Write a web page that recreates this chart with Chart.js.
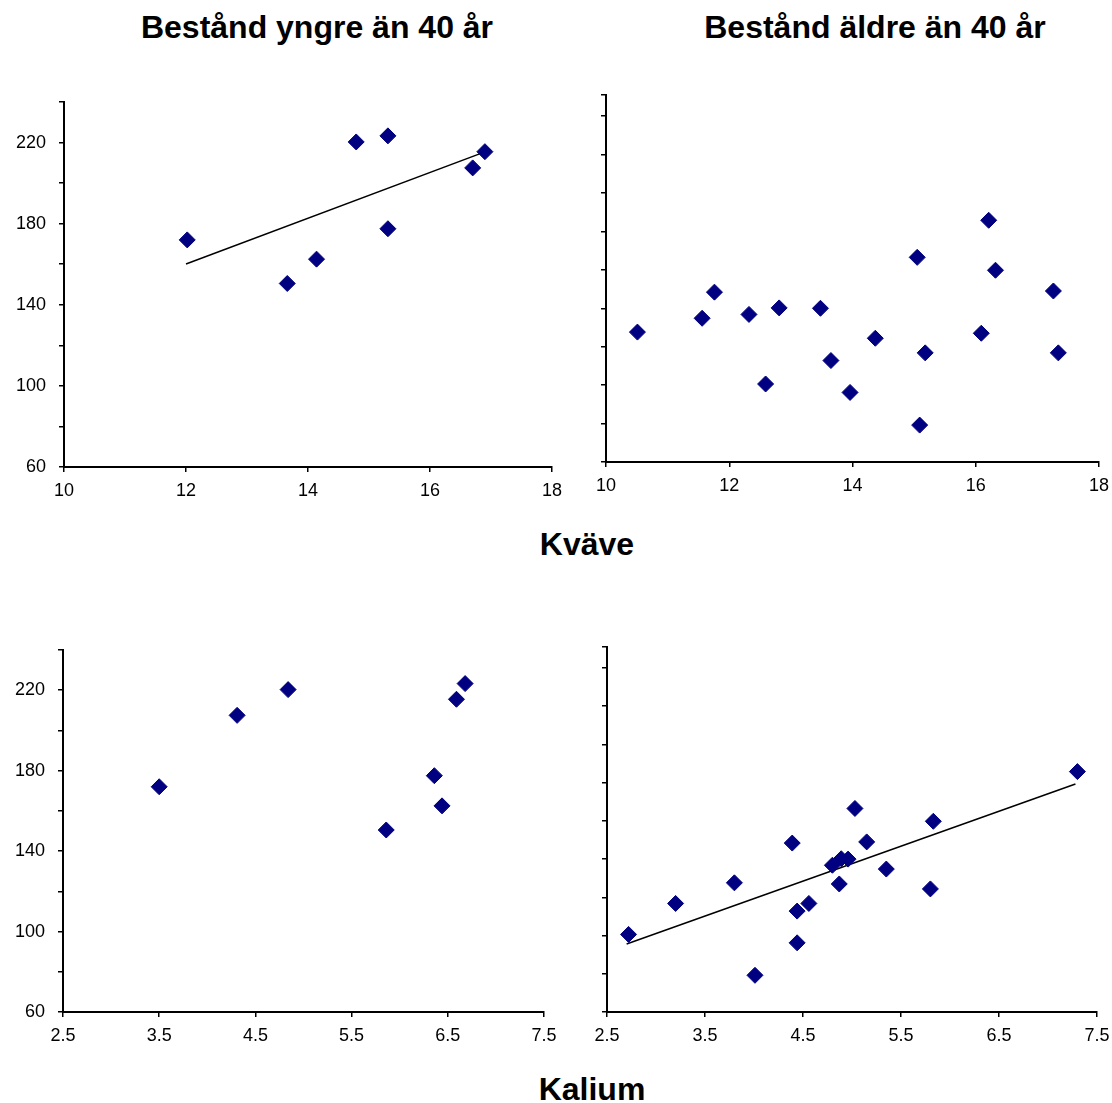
<!DOCTYPE html>
<html>
<head>
<meta charset="utf-8">
<script src="https://cdn.jsdelivr.net/npm/chart.js"></script>
<style>
  body { margin: 0; background: #fff; font-family: "Liberation Sans", Arial, sans-serif; }
  #page { position: relative; width: 1112px; height: 1103px; overflow: hidden; }
  .lbl { position: absolute; font-weight: bold; font-size: 32px; line-height: 32px; white-space: nowrap; transform: translateX(-50%); color: #000; }
  canvas { position: absolute; }
</style>
</head>
<body>
<div id="page">
  <div class="lbl" style="left:317px; top:11px">Bestånd yngre än 40 år</div>
  <div class="lbl" style="left:875px; top:11px">Bestånd äldre än 40 år</div>
  <div class="lbl" style="left:587px; top:528px">Kväve</div>
  <div class="lbl" style="left:592px; top:1073px">Kalium</div>
  <canvas id="tl"></canvas>
  <canvas id="tr"></canvas>
  <canvas id="bl"></canvas>
  <canvas id="br"></canvas>
</div>
<script>
// yngre bestånd: kväve, kalium och y-värde per bestånd
const youngN = [12.02, 13.66, 14.14, 14.79, 15.31, 15.31, 16.70, 16.90];
const youngK = [3.50, 5.86, 6.44, 4.84, 6.68, 6.36, 4.31, 6.59];
const youngY = [172, 150.5, 162.5, 220.3, 223.3, 177.5, 207.5, 215.5];

// äldre bestånd
const oldN = [10.51, 11.56, 11.76, 12.32, 12.59, 12.81, 13.48, 13.65, 13.96,
              14.37, 15.05, 15.09, 15.18, 16.09, 16.21, 16.32, 17.26, 17.34];
const oldK = [3.80, 5.35, 4.39, 4.80, 2.72, 4.89, 4.96, 4.44, 4.44,
              5.80, 5.03, 4.01, 3.20, 4.87, 7.30, 5.83, 5.15, 4.56];
const oldY = [127.6, 134.8, 148.4, 136.8, 100.6, 140.2, 140.0, 112.8, 96.2,
              124.4, 166.5, 79.2, 116.8, 127.0, 185.8, 159.8, 149.0, 116.8];

// trendlinjer (ändpunkter)
const trendYoungNx = [12.0, 16.9];
const trendYoungNy = [160.1, 215.4];
const trendOldKx = [2.70, 7.28];
const trendOldKy = [95.6, 179.3];

// axlar
const yLabels = [60, 100, 140, 180, 220];
const nAxis = { min: 10, max: 18, step: 2 };
const kAxis = { min: 2.5, max: 7.5, step: 1 };

const tickFont = { family: "'Liberation Sans', Arial, sans-serif", size: 18 };
const navy = '#000080';

function toPoints(xs, ys) {
  return xs.map((x, i) => ({ x: x, y: ys[i] }));
}

function zeroPad(s) {
  s.paddingLeft = 0;
  s.paddingRight = 0;
  s.paddingTop = 0;
  s.paddingBottom = 0;
}

function makePanel(id, box, xs, ys, trendX, trendY, axis, showY, yMax) {
  const cv = document.getElementById(id);
  cv.width = box.r - box.l + 82;
  cv.height = box.b - box.t + 60;
  cv.style.left = (box.l - 60) + 'px';
  cv.style.top = (box.t - 20) + 'px';

  const datasets = [
    {
      data: toPoints(xs, ys),
      pointStyle: 'rectRot',
      pointRadius: 8,
      backgroundColor: navy,
      borderColor: navy,
      borderWidth: 1,
      showLine: false,
    },
  ];
  if (trendX) {
    datasets.push({
      data: toPoints(trendX, trendY),
      showLine: true,
      pointRadius: 0,
      borderColor: '#000',
      borderWidth: 1.5,
      fill: false,
    });
  }

  return new Chart(cv, {
    type: 'scatter',
    data: { datasets: datasets },
    options: {
      responsive: false,
      animation: false,
      clip: false,
      layout: { padding: { left: 0, top: 20, right: 22, bottom: 10 } },
      plugins: { legend: { display: false }, tooltip: { enabled: false } },
      scales: {
        x: {
          type: 'linear',
          bounds: 'data',
          min: axis.min,
          max: axis.max,
          ticks: {
            stepSize: axis.step,
            color: '#000',
            font: tickFont,
            padding: 8,
            maxRotation: 0,
            callback: (v) => (axis.step < 2 ? v.toFixed(1) : v),
          },
          grid: { drawOnChartArea: false, color: '#000', lineWidth: 1.5, tickLength: 5 },
          border: { color: '#000', width: 2 },
          afterFit: (s) => { s.height = 30; zeroPad(s); },
        },
        y: {
          type: 'linear',
          bounds: 'data',
          min: 60,
          max: yMax,
          ticks: {
            stepSize: 20,
            includeBounds: false,
            color: '#000',
            font: tickFont,
            padding: 13,
            callback: (v) => (showY && yLabels.includes(v) ? v : ''),
          },
          grid: { drawOnChartArea: false, color: '#000', lineWidth: 1.5, tickLength: 5 },
          border: { color: '#000', width: 2 },
          afterFit: (s) => { s.width = 60; zeroPad(s); },
        },
      },
    },
  });
}

makePanel('tl', { l: 64, r: 552, t: 102, b: 467 }, youngN, youngY, trendYoungNx, trendYoungNy, nAxis, true, 240);
makePanel('tr', { l: 606, r: 1099, t: 95, b: 462 }, oldN, oldY, null, null, nAxis, false, 251);
makePanel('bl', { l: 63, r: 544, t: 650, b: 1012 }, youngK, youngY, null, null, kAxis, true, 240);
makePanel('br', { l: 607, r: 1097, t: 647, b: 1012 }, oldK, oldY, trendOldKx, trendOldKy, kAxis, false, 251);
</script>
</body>
</html>
